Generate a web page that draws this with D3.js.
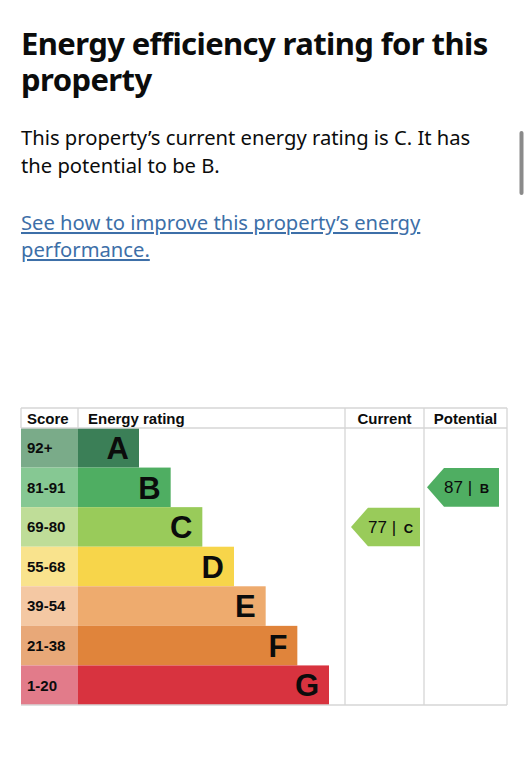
<!DOCTYPE html>
<html><head><meta charset="utf-8">
<script src="https://cdn.jsdelivr.net/npm/d3@7"></script>
<style>
html,body{margin:0;padding:0;background:#fff;overflow:hidden;}
svg{display:block;}
</style>
</head><body>
<svg id="c" width="528" height="768"></svg>
<script>
const bands = ["A","B","C","D","E","F","G"];
const scoreLabels = ["92+","81-91","69-80","55-68","39-54","21-38","1-20"];
const bandMins = [92,81,69,55,39,21,1];
const barColors = ["#3b7f57","#4fae62","#99cb5a","#f7d54a","#eeab6e","#e0843b","#d8333f"];
const cellColors = ["#7aab89","#86c893","#bfdd98","#f9e38d","#f4c8a3","#e8a878","#e27b8a"];
const columns = ["Score","Energy rating","Current","Potential"];
const currentScore = 77;
const potentialScore = 87;

const svg = d3.select("#c");
const sans = "'Noto Sans', sans-serif";
const arial = "'Liberation Sans', Arial, sans-serif";

// Title and text
const title = svg.append("text").attr("font-family", sans).attr("font-weight", 700)
  .attr("font-size", 31).attr("fill", "#0b0c0c").attr("letter-spacing", -0.6);
title.append("tspan").attr("x", 21).attr("y", 55).text("Energy efficiency rating for this");
title.append("tspan").attr("x", 21).attr("y", 91).text("property");

const para = svg.append("text").attr("font-family", sans).attr("font-size", 20.2).attr("fill", "#0b0c0c");
para.append("tspan").attr("x", 21).attr("y", 145).text("This property\u2019s current energy rating is C. It has");
para.append("tspan").attr("x", 21).attr("y", 173).text("the potential to be B.");

const link = svg.append("text").attr("font-family", sans).attr("font-size", 20.2).attr("fill", "#3d6fa8")
  .attr("text-decoration", "underline");
link.append("tspan").attr("x", 21).attr("y", 230).text("See how to improve this property\u2019s energy");
link.append("tspan").attr("x", 21).attr("y", 257).text("performance.");

// scrollbar
svg.append("rect").attr("x", 519.5).attr("y", 131).attr("width", 4).attr("height", 64).attr("rx", 2).attr("fill", "#8a8a8a");

// Table geometry
const tableTop = 408, headerBottom = 428, tableBottom = 705;
const colX = [21, 78, 345, 424, 507];
const y = d3.scaleBand().domain(bands).range([headerBottom, tableBottom]).padding(0);
const barEnd = d3.scaleLinear().domain([0, bands.length - 1]).range([139, 329]);
const gridColor = "#d6d6d6";

// Score cells and bars
const rows = svg.append("g").selectAll("g").data(bands).join("g");
rows.append("rect").attr("x", colX[0]).attr("y", d => y(d)).attr("width", colX[1] - colX[0])
  .attr("height", y.bandwidth()).attr("fill", (d, i) => cellColors[i]);
rows.append("rect").attr("x", colX[1]).attr("y", d => y(d)).attr("width", (d, i) => barEnd(i) - colX[1])
  .attr("height", y.bandwidth()).attr("fill", (d, i) => barColors[i]);
rows.append("text").attr("x", colX[0] + 6).attr("y", d => y(d) + y.bandwidth() / 2).attr("dy", "0.36em")
  .attr("font-family", arial).attr("font-weight", 700).attr("font-size", 15).attr("fill", "#0b0c0c")
  .text((d, i) => scoreLabels[i]);
rows.append("text").attr("x", (d, i) => barEnd(i) - 10).attr("y", d => y(d) + y.bandwidth() / 2).attr("dy", "0.36em")
  .attr("text-anchor", "end").attr("font-family", arial).attr("font-weight", 700).attr("font-size", 31)
  .attr("fill", "#0b0c0c").text(d => d);

// grid lines
const grid = svg.append("g").attr("stroke", gridColor).attr("stroke-width", 1.3).attr("fill", "none");
grid.append("line").attr("x1", colX[0]).attr("x2", colX[4]).attr("y1", tableTop).attr("y2", tableTop);
grid.append("line").attr("x1", colX[0]).attr("x2", colX[4]).attr("y1", headerBottom).attr("y2", headerBottom);
grid.append("line").attr("x1", colX[0]).attr("x2", colX[4]).attr("y1", tableBottom).attr("y2", tableBottom);
grid.append("line").attr("x1", colX[0]).attr("x2", colX[0]).attr("y1", tableTop).attr("y2", headerBottom);
grid.append("line").attr("x1", colX[1]).attr("x2", colX[1]).attr("y1", tableTop).attr("y2", headerBottom);
[colX[2], colX[3], colX[4]].forEach(x => grid.append("line").attr("x1", x).attr("x2", x).attr("y1", tableTop).attr("y2", tableBottom));

// headers
const hx = [colX[0] + 6, colX[1] + 10, (colX[2] + colX[3]) / 2, (colX[3] + colX[4]) / 2];
const ha = ["start", "start", "middle", "middle"];
svg.append("g").selectAll("text").data(columns).join("text")
  .attr("x", (d, i) => hx[i]).attr("y", 424).attr("text-anchor", (d, i) => ha[i])
  .attr("font-family", arial).attr("font-weight", 700).attr("font-size", 15).attr("fill", "#0b0c0c").text(d => d);

// arrows
function bandOf(score) { return bands[bandMins.findIndex(m => score >= m)]; }
function arrow(score, x0, x1) {
  const b = bandOf(score), i = bands.indexOf(b);
  const top = y(b) + 0.5, bot = y(b) + y.bandwidth() - 0.5, mid = (top + bot) / 2;
  const tip = 17;
  const g = svg.append("g");
  g.append("path").attr("d", `M${x0},${mid} L${x0 + tip},${top} L${x1},${top} L${x1},${bot} L${x0 + tip},${bot} Z`)
    .attr("fill", barColors[i]);
  const t = g.append("text").attr("x", x0 + tip).attr("y", mid).attr("dy", "0.36em")
    .attr("font-family", arial).attr("fill", "#0b0c0c");
  t.append("tspan").attr("font-size", 17).text(score + " | ");
  t.append("tspan").attr("font-size", 13).attr("font-weight", 700).attr("dx", 3).text(b);
}
arrow(currentScore, 351, 420);
arrow(potentialScore, 427, 499);
</script>
</body></html>
